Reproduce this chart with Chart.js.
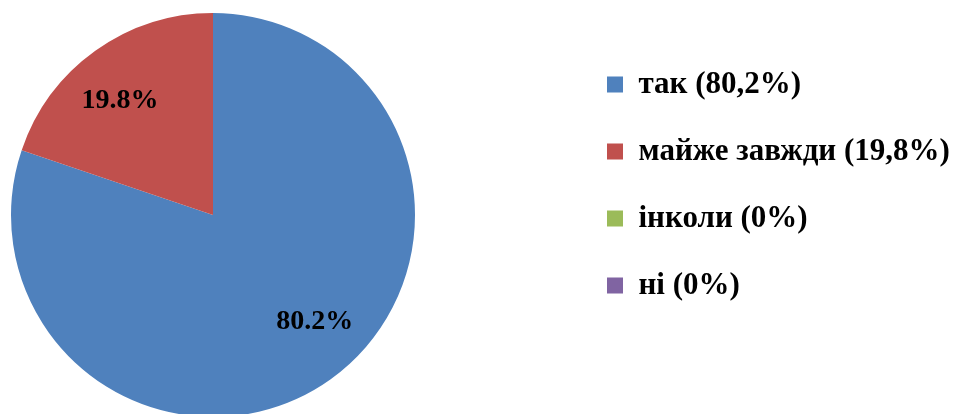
<!DOCTYPE html>
<html>
<head>
<meta charset="utf-8">
<script src="https://cdn.jsdelivr.net/npm/chart.js@4/dist/chart.umd.min.js"></script>
<style>
  html, body { margin: 0; padding: 0; background: #ffffff; overflow: hidden; }
  #wrap { width: 957px; height: 420px; position: relative; }
</style>
</head>
<body>
<div id="wrap"><canvas id="c" width="957" height="420"></canvas></div>
<script>
// ---- data ----
const categories = ['так (80,2%)', 'майже завжди (19,8%)', 'інколи (0%)', 'ні (0%)'];
const values = [80.2, 19.8, 0, 0];
const colors = ['#4F81BD', '#C0504D', '#9BBB59', '#8064A2'];

const FONT = "'Liberation Serif', 'Times New Roman', serif";

// Draw percentage labels inside slices
const sliceLabels = {
  id: 'sliceLabels',
  afterDatasetsDraw(chart, args, opts) {
    const ctx = chart.ctx;
    const meta = chart.getDatasetMeta(0);
    const data = chart.data.datasets[0].data;
    ctx.save();
    ctx.font = 'bold 28px ' + FONT;
    ctx.fillStyle = '#000000';
    ctx.textAlign = 'center';
    ctx.textBaseline = 'middle';
    meta.data.forEach((arc, i) => {
      const v = data[i];
      if (!v) return;
      const p = arc.getProps(['x', 'y', 'startAngle', 'endAngle', 'outerRadius'], true);
      const shift = (opts.angleShift[i] || 0) * Math.PI / 180;
      const mid = (p.startAngle + p.endAngle) / 2 + shift;
      const r = p.outerRadius * opts.radiusFactor;
      ctx.fillText(v.toFixed(1) + '%', p.x + Math.cos(mid) * r, p.y + Math.sin(mid) * r);
    });
    ctx.restore();
  }
};

// Place the legend to the right of the pie
const legendPlacer = {
  id: 'legendPlacer',
  afterLayout(chart, args, opts) {
    const lg = chart.legend;
    if (!lg) return;
    const w = lg.width;
    lg.left = opts.left;
    lg.right = opts.left + Math.max(w, 380);
    lg.width = lg.right - lg.left;
    lg.top = opts.top;
    lg.bottom = chart.height;
    lg.height = lg.bottom - lg.top;
  }
};

new Chart(document.getElementById('c'), {
  type: 'pie',
  data: {
    labels: categories,
    datasets: [{
      data: values,
      backgroundColor: colors,
      borderWidth: 0
    }]
  },
  options: {
    responsive: false,
    animation: false,
    layout: { padding: { left: 11, right: 542, top: 13, bottom: 3 } },
    plugins: {
      tooltip: { enabled: false },
      legend: {
        display: true,
        position: 'chartArea',
        align: 'start',
        labels: {
          boxWidth: 16,
          boxHeight: 16,
          padding: 36,
          color: '#000000',
          font: { family: FONT, size: 31, weight: 'bold' }
        }
      },
      legendPlacer: { left: 571, top: 33 },
      sliceLabels: { radiusFactor: 0.73, angleShift: [-8, -3.5, 0, 0] }
    }
  },
  plugins: [sliceLabels, legendPlacer]
});
</script>
</body>
</html>
